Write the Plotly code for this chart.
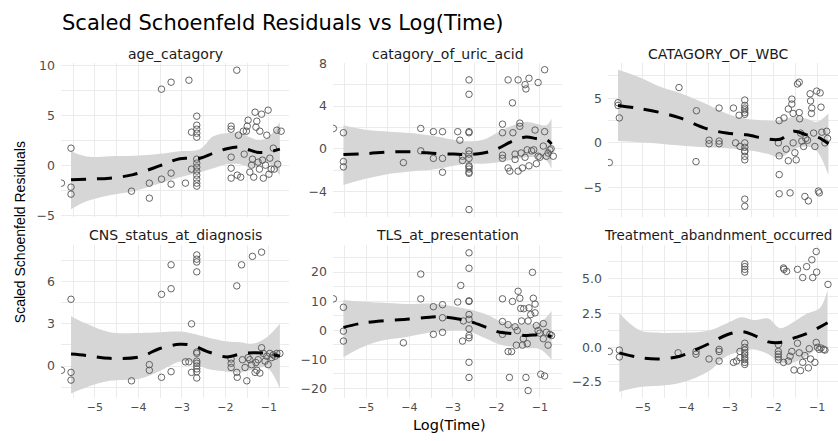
import plotly.graph_objects as go

# ---------------- data (log time, scaled Schoenfeld residuals) ----------------
age_x = [-5.77, -5.55, -5.55, -5.55, -4.16, -3.75, -3.75, -3.47, -3.47, -3.25, -3.25, -3.25, -2.92, -2.84, -2.78, -2.78,
         -2.66, -2.66, -2.66, -2.66, -2.66, -2.66, -2.66, -2.66, -2.66, -2.66, -2.66, -2.66, -2.66,
         -1.87, -1.87, -1.87, -1.87, -1.87, -1.74, -1.73, -1.70, -1.65, -1.59, -1.57, -1.52, -1.50, -1.48, -1.44, -1.40,
         -1.38, -1.35, -1.32, -1.30, -1.28, -1.25, -1.22, -1.21, -1.17, -1.15, -1.13, -1.08, -1.05, -1.02, -1.00, -0.98,
         -0.95, -0.90, -0.88, -0.82, -0.80, -0.72]
age_y = [-1.8, 1.7, -2.2, -2.9, -2.6, -1.8, -3.3, 7.6, -1.4, 8.3, -0.8, -1.9, -1.8, 8.5, 3.3, -0.4,
         4.9, 4.0, 3.6, 3.2, 2.8, 0.6, 0.2, -0.2, -0.6, -1.0, -1.4, -1.8, -2.1,
         3.9, 3.6, 0.8, -0.3, -1.3, 9.5, -1.0, 3.0, -1.2, 3.4, 1.1, 3.4, 3.9, 4.5, -0.7, 0.0,
         0.6, -1.2, 5.3, 3.8, 4.4, 0.3, -0.4, 3.4, 5.1, 0.5, -1.3, 0.0, 3.0, 5.5, -0.9, 0.7,
         -0.4, 1.7, -0.4, 3.5, 0.1, 3.4]
age_fx = [-5.55, -5.19, -4.66, -4.12, -3.5, -3.05, -2.59, -2.28, -1.97, -1.67, -1.44, -1.28, -1.05, -0.75]
age_fit = [-1.45, -1.4, -1.3, -0.95, -0.05, 0.65, 0.7, 1.2, 1.65, 1.8, 1.5, 1.3, 1.3, 1.6]
age_hi = [1.4, 0.87, 0.9, 0.94, 1.15, 1.4, 1.6, 2.9, 3.2, 3.2, 2.8, 2.55, 2.7, 4.3]
age_lo = [-4.4, -3.6, -3.0, -2.6, -1.8, -1.2, -0.7, -0.3, 0.1, 0.1, -0.2, -0.2, 0.3, -1.0]

uric_x = [-5.75, -5.52, -5.52, -5.52, -4.14, -3.74, -3.74, -3.45, -3.45, -3.24, -3.24, -3.24, -2.89, -2.84, -2.78, -2.78,
          -2.63, -2.63, -2.63, -2.63, -2.63, -2.63, -2.63, -2.63, -2.63, -2.63, -2.63, -2.63, -2.63,
          -1.86, -1.86, -1.86, -1.86, -1.73, -1.73, -1.69, -1.63, -1.62, -1.57, -1.57, -1.50, -1.50, -1.46, -1.46, -1.43,
          -1.40, -1.34, -1.34, -1.32, -1.29, -1.25, -1.25, -1.19, -1.14, -1.11, -1.08, -1.04, -1.04, -1.00, -0.92, -0.89,
          -0.89, -0.85, -0.81, -0.77, -0.74, -0.69]
uric_y = [1.9, 1.5, -1.2, -1.7, -1.3, 1.9, -0.2, 1.6, -0.9, 1.6, -0.9, -2.2, 1.6, 0.8, -1.1, -0.7,
          6.45, 5.1, 1.6, 1.5, -0.2, -0.5, -0.9, -1.6, -1.7, -1.9, -2.2, -2.3, -5.7,
          2.3, 1.5, -0.6, -0.9, 6.45, -1.8, -2.1, 4.3, 1.5, -0.5, -1.0, 6.45, -2.1, 2.4, 2.1, -0.4,
          -1.8, 6.0, -0.8, 5.6, -0.1, 6.6, -1.6, -0.2, -0.1, 1.75, -1.4, 6.2, -0.7, -0.8, 0.25, 7.4,
          1.6, -0.7, -0.4, -0.1, 0.0, -0.7]
uric_fx = [-5.52, -4.98, -4.45, -3.91, -3.38, -2.99, -2.69, -2.3, -2.0, -1.61, -1.31, -1.08, -0.85, -0.73]
uric_fit = [-0.55, -0.45, -0.3, -0.3, -0.45, -0.5, -0.55, -0.4, -0.05, 0.75, 1.1, 0.95, 0.85, 0.45]
uric_hi = [2.2, 1.75, 1.6, 1.45, 1.15, 0.85, 0.7, 0.85, 1.45, 2.2, 2.5, 2.35, 2.2, 2.8]
uric_lo = [-3.4, -2.8, -2.35, -2.1, -1.9, -1.6, -1.4, -1.4, -1.3, -1.0, -0.8, -0.8, -1.1, -1.9]

wbc_x = [-5.77, -5.57, -5.57, -5.54, -4.17, -3.78, -3.77, -3.48, -3.48, -3.25, -3.25, -3.25, -2.92, -2.87, -2.79, -2.77,
         -2.66, -2.66, -2.66, -2.66, -2.66, -2.66, -2.66, -2.66, -2.66, -2.66, -2.66, -2.66, -2.66, -2.66,
         -1.89, -1.87, -1.87, -1.87, -1.87, -1.76, -1.71, -1.66, -1.66, -1.62, -1.58, -1.58, -1.55, -1.55, -1.51, -1.48,
         -1.45, -1.41, -1.41, -1.40, -1.38, -1.35, -1.31, -1.28, -1.26, -1.22, -1.20, -1.16, -1.15, -1.13, -1.12, -1.08,
         -1.05, -1.01, -0.97, -0.95, -0.93, -0.91, -0.89, -0.82, -0.78, -0.76]
wbc_y = [-2.2, 4.5, 4.2, 2.8, 6.2, -2.1, 3.6, 0.3, -0.1, 3.9, 0.2, -0.1, 3.9, 0.0, 3.1, -0.4,
         4.8, 4.2, 3.9, 3.7, 3.4, 3.2, 0.0, -0.5, -0.9, -1.0, -1.5, -1.9, -6.3, -7.1,
         0.0, 2.5, -1.45, -3.55, -5.7, 2.8, -0.7, 3.8, -2.0, -5.6, 4.9, 4.35, 3.3, 0.0, -1.1, -1.9,
         6.6, 6.8, 3.4, 2.7, 1.1, 0.2, -0.4, -6.0, 0.5, 0.3, -6.5, 5.5, 4.7, 3.3, 3.9, 1.1,
         -0.4, 5.8, -5.4, -5.6, 5.6, 4.0, 1.2, 0.0, 1.3, 0.5]
wbc_fx = [-5.57, -5.15, -4.6, -4.15, -3.54, -3.08, -2.62, -2.16, -1.85, -1.54, -1.24, -1.01, -0.74]
wbc_fit = [4.2, 3.9, 3.4, 2.8, 1.6, 1.1, 0.9, 0.45, 0.4, 1.3, 0.9, 0.7, -0.1]
wbc_hi = [8.2, 7.5, 6.3, 5.6, 4.35, 3.3, 2.7, 2.5, 2.5, 2.9, 2.7, 2.35, 3.3]
wbc_lo = [0.2, 0.1, -0.1, -0.3, -0.5, -0.6, -0.8, -1.2, -1.6, -0.7, -0.4, -0.9, -3.6]

cns_x = [-5.77, -5.55, -5.55, -5.55, -4.16, -3.75, -3.75, -3.47, -3.47, -3.25, -3.25, -3.25, -2.92, -2.84, -2.78, -2.78,
         -2.66, -2.66, -2.66, -2.66, -2.66, -2.66, -2.66, -2.66, -2.66, -2.66, -2.66, -2.66,
         -1.87, -1.87, -1.87, -1.74, -1.74, -1.73, -1.63, -1.61, -1.55, -1.51, -1.48, -1.44, -1.40, -1.38, -1.32, -1.30,
         -1.28, -1.25, -1.21, -1.17, -1.17, -1.13, -1.09, -1.05, -1.02, -0.98, -0.94, -0.90, -0.86, -0.82, -0.75]
cns_y = [-0.3, 4.75, -0.45, -1.0, -1.05, 0.1, -0.3, 5.1, -0.8, 7.2, 5.5, -0.4, 0.3, 0.3, 3.0, -0.45,
         7.9, 7.6, 7.4, 6.7, 1.0, 0.9, 0.35, 0.2, 0.0, -0.2, -0.4, -0.85,
         0.5, 0.2, -0.1, 5.7, -0.45, -0.8, 7.2, 0.45, -0.1, -1.05, 0.6, 0.45, 0.1, 7.8, -0.45, 0.25,
         -0.3, 0.45, -0.5, 8.1, 1.3, 0.9, 0.35, 0.7, 0.1, 0.9, 0.6, 0.8, 0.7, 0.9, 0.9]
cns_fx = [-5.55, -5.19, -4.66, -3.97, -3.51, -3.05, -2.74, -2.43, -1.97, -1.67, -1.36, -1.05, -0.75]
cns_fit = [0.85, 0.75, 0.55, 0.65, 1.25, 1.55, 1.45, 1.05, 0.65, 0.85, 0.95, 0.9, 0.7]
cns_hi = [3.55, 3.0, 2.4, 2.35, 2.4, 2.45, 2.3, 2.05, 1.75, 1.7, 1.6, 2.05, 3.0]
cns_lo = [-1.95, -1.5, -1.05, -0.9, -0.35, 0.3, 0.25, -0.2, -0.4, -0.45, -0.25, -0.1, -1.6]

tls_x = [-5.75, -5.52, -5.52, -5.52, -4.14, -3.74, -3.74, -3.45, -3.45, -3.24, -3.24, -3.24, -2.89, -2.82, -2.78, -2.76,
         -2.63, -2.63, -2.63, -2.63, -2.63, -2.63, -2.63, -2.63, -2.63, -2.63, -2.63,
         -1.86, -1.86, -1.86, -1.73, -1.73, -1.70, -1.65, -1.63, -1.57, -1.54, -1.52, -1.50, -1.46, -1.44, -1.42, -1.40,
         -1.38, -1.37, -1.32, -1.29, -1.27, -1.27, -1.25, -1.21, -1.17, -1.15, -1.11, -1.11, -1.08, -1.04, -1.00, -0.98,
         -0.92, -0.92, -0.89, -0.85, -0.81, -0.77, -0.73]
tls_y = [10.8, 7.9, -0.3, -3.7, -4.3, 19.3, 10.8, 8.1, -1.4, 8.8, 4.3, -0.7, 9.7, 15.4, -3.7, 3.2,
         26.6, 21.3, 10.1, 9.9, 5.4, 3.8, 0.5, -1.8, -2.6, -11.0, -16.2,
         10.8, 3.0, -1.4, 1.9, -7.3, -16.2, -7.3, 9.9, 1.2, -5.1, -0.1, 13.4, 11.0, 7.5, 3.2, -5.1,
         -2.9, 7.4, -16.2, -4.6, -20.7, 3.2, 7.7, 5.4, 19.9, 11.0, 9.0, 6.0, 1.6, -0.1, -1.0, -15.1,
         -2.9, 2.3, -15.7, -0.7, -5.1, -1.4, -1.8]
tls_fx = [-5.52, -5.14, -4.68, -4.07, -3.53, -3.22, -2.84, -2.61, -2.23, -1.92, -1.61, -1.31, -1.0, -0.73]
tls_fit = [1.0, 2.3, 3.2, 3.8, 4.5, 4.6, 3.8, 3.0, 1.0, -0.7, -1.2, -1.8, -1.5, -2.1]
tls_hi = [10.4, 9.9, 9.5, 9.0, 9.2, 8.8, 7.8, 7.1, 5.4, 3.2, 2.1, 2.2, 2.6, 6.6]
tls_lo = [-9.3, -6.2, -3.7, -2.3, -0.8, -0.3, -0.1, -0.5, -2.9, -4.9, -5.7, -6.2, -6.5, -10.1]

trt_x = [-5.77, -5.54, -5.54, -4.19, -3.78, -3.78, -3.48, -3.25, -3.25, -3.25, -2.92, -2.85, -2.77, -2.77,
         -2.66, -2.66, -2.66, -2.66, -2.66, -2.66, -2.66, -2.66, -2.66, -2.66, -2.66, -2.66, -2.66,
         -1.89, -1.89, -1.89, -1.89, -1.89, -1.77, -1.76, -1.70, -1.77, -1.66, -1.62, -1.58, -1.53, -1.45, -1.45, -1.41,
         -1.38, -1.33, -1.33, -1.28, -1.24, -1.20, -1.18, -1.15, -1.12, -1.10, -1.05, -1.02, -1.02, -1.01, -0.99, -0.95,
         -0.91, -0.85, -0.82, -0.75]
trt_y = [-0.3, -0.2, -0.7, -0.4, -0.3, -0.5, -0.85, -0.15, -0.3, -1.0, -1.1, -1.0, -0.3, -0.75,
         6.1, 5.9, 5.7, 5.5, 0.3, 0.0, -0.2, -0.4, -0.55, -0.75, -0.9, -1.1, -1.25,
         0.2, -0.3, -0.5, -0.7, -0.9, 5.8, 5.7, 5.55, -1.1, -1.0, -0.65, -0.3, -1.65, 5.7, 0.3, -0.4,
         -1.7, 5.1, -1.1, -0.6, 5.9, -1.5, -0.1, -0.85, 6.4, 5.1, -1.1, 7.0, 0.36, 5.5, 0.0, -0.15,
         -0.05, -0.15, -0.2, 4.6]
trt_fx = [-5.54, -5.07, -4.61, -4.15, -3.77, -3.46, -3.08, -2.73, -2.46, -2.12, -1.85, -1.54, -1.24, -0.93, -0.76]
trt_fit = [-0.4, -0.75, -0.85, -0.65, -0.15, 0.3, 0.9, 1.15, 0.9, 0.4, 0.36, 0.67, 1.0, 1.5, 1.8]
trt_hi = [2.5, 1.25, 1.07, 1.07, 1.1, 1.25, 1.75, 2.2, 2.0, 2.1, 1.4, 1.85, 2.45, 2.9, 4.2]
trt_lo = [-3.25, -2.9, -2.8, -2.6, -2.2, -1.7, -0.65, -0.3, -0.15, -0.5, -1.1, -1.1, -0.65, 0.0, -0.1]

panel_titles = ["age_catagory", "catagory_of_uric_acid", "CATAGORY_OF_WBC",
                "CNS_status_at_diagnosis", "TLS_at_presentation", "Treatment_abandnment_occurred"]
x_ticks = [-5, -4, -3, -2, -1]

# ---------------- layout geometry ----------------
W, H = 838, 441
def fx(p): return p / W
def fy(p): return 1 - p / H

col_px = [(61, 289), (333, 562), (608, 838)]
row_px = [(57.5, 216), (245.5, 403)]
xr = [[-5.78, -0.54], [-5.76, -0.49], [-5.80, -0.52]]
strip_cx = [175, 447.5, 718]
strip_size = [14, 14, 14, 14, 14, 13.5]

panels = [
    dict(x=age_x, y=age_y, fx=age_fx, fit=age_fit, hi=age_hi, lo=age_lo, yr=[-5.15, 10.24], dt=5, fmt=None),
    dict(x=uric_x, y=uric_y, fx=uric_fx, fit=uric_fit, hi=uric_hi, lo=uric_lo, yr=[-6.36, 8.05], dt=4, fmt=None),
    dict(x=wbc_x, y=wbc_y, fx=wbc_fx, fit=wbc_fit, hi=wbc_hi, lo=wbc_lo, yr=[-8.26, 8.97], dt=5, fmt=None),
    dict(x=cns_x, y=cns_y, fx=cns_fx, fit=cns_fit, hi=cns_hi, lo=cns_lo, yr=[-2.28, 8.59], dt=3, fmt=None),
    dict(x=tls_x, y=tls_y, fx=tls_fx, fit=tls_fit, hi=tls_hi, lo=tls_lo, yr=[-23.3, 29.2], dt=10, fmt=None),
    dict(x=trt_x, y=trt_y, fx=trt_fx, fit=trt_fit, hi=trt_hi, lo=trt_lo, yr=[-3.71, 7.46], dt=2.5, fmt=".1f"),
]

FONT = "DejaVu Sans"
GRID = "#ebebeb"
fig = go.Figure()
layout = {}
annotations = []

for i, p in enumerate(panels):
    r, c = divmod(i, 3)
    n = "" if i == 0 else str(i + 1)
    xa, ya = "x" + n, "y" + n
    # confidence band
    fig.add_trace(go.Scatter(x=p["fx"], y=p["lo"], mode="lines", line=dict(width=0, shape="spline"),
                             xaxis=xa, yaxis=ya, showlegend=False, hoverinfo="skip"))
    fig.add_trace(go.Scatter(x=p["fx"], y=p["hi"], mode="lines", line=dict(width=0, shape="spline"),
                             fill="tonexty", fillcolor="#d6d6d6", xaxis=xa, yaxis=ya,
                             showlegend=False, hoverinfo="skip"))
    # residual points
    fig.add_trace(go.Scatter(x=p["x"], y=p["y"], mode="markers",
                             marker=dict(symbol="circle-open", size=6.5, color="#555555", line=dict(width=0.9)),
                             xaxis=xa, yaxis=ya, showlegend=False))
    # smooth fit
    fig.add_trace(go.Scatter(x=p["fx"], y=p["fit"], mode="lines",
                             line=dict(color="black", width=3, dash="15px,11px", shape="spline"),
                             xaxis=xa, yaxis=ya, showlegend=False))

    x0, x1 = col_px[c]
    y0, y1 = row_px[r]
    layout["xaxis" + n] = dict(
        domain=[fx(x0), fx(x1)], anchor=ya, range=xr[c], tickvals=x_ticks,
        showticklabels=(r == 1), showgrid=True, gridcolor=GRID, gridwidth=1,
        minor=dict(dtick=0.5, tick0=0, showgrid=True, gridcolor=GRID, gridwidth=0.8),
        zeroline=False, showline=False, ticks="", ticklabelstandoff=1,
        tickfont=dict(family=FONT, size=11, color="#4d4d4d"))
    ya_d = dict(
        domain=[fy(y1), fy(y0)], anchor=xa, range=p["yr"], tick0=0, dtick=p["dt"],
        showgrid=True, gridcolor=GRID, gridwidth=1,
        minor=dict(dtick=p["dt"] / 2, tick0=0, showgrid=True, gridcolor=GRID, gridwidth=0.8),
        zeroline=False, showline=False, ticks="", ticklabelstandoff=5,
        tickfont=dict(family=FONT, size=12.5, color="#4d4d4d"))
    if p["fmt"]:
        ya_d["tickformat"] = p["fmt"]
    layout["yaxis" + n] = ya_d
    annotations.append(dict(text=panel_titles[i], x=fx(strip_cx[c]), y=fy(48 if r == 0 else 235),
                            xref="paper", yref="paper", showarrow=False, xanchor="center", yanchor="middle",
                            font=dict(family=FONT, size=strip_size[i], color="#1a1a1a")))

annotations.append(dict(text="Scaled Schoenfeld Residuals vs Log(Time)", x=fx(60), y=fy(17),
                        xref="paper", yref="paper", showarrow=False, xanchor="left", yanchor="middle",
                        font=dict(family=FONT, size=21, color="black")))
annotations.append(dict(text="Log(Time)", x=fx(449), y=fy(441), xref="paper", yref="paper",
                        showarrow=False, xanchor="center", yanchor="bottom",
                        font=dict(family=FONT, size=14.5, color="black")))
annotations.append(dict(text="Scaled Schoenfeld Residuals", x=fx(20), y=fy(232), xref="paper", yref="paper",
                        showarrow=False, textangle=-90, xanchor="center", yanchor="middle",
                        font=dict(family="Liberation Sans", size=14, color="black")))

fig.update_layout(width=W, height=H, margin=dict(l=0, r=0, t=0, b=0),
                  paper_bgcolor="white", plot_bgcolor="white", annotations=annotations, **layout)
fig.write_html("out.html")
